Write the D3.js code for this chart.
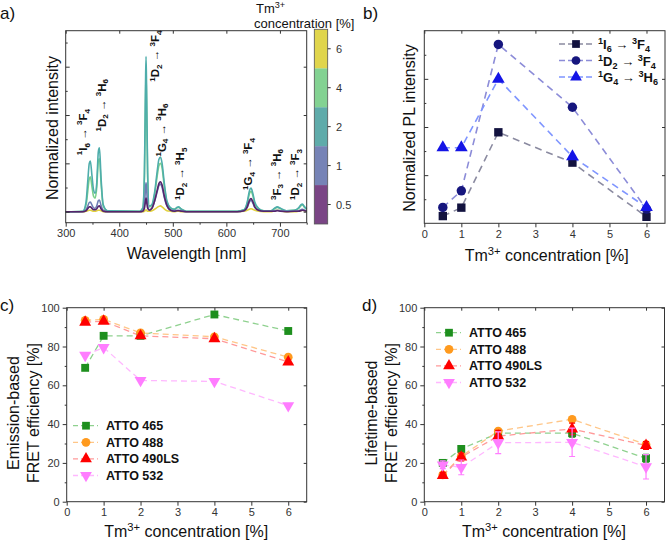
<!DOCTYPE html>
<html>
<head>
<meta charset="utf-8">
<script src="https://cdn.jsdelivr.net/npm/d3@7"></script>
<style>
  body { margin: 0; background: #fff; }
  svg { display: block; }
</style>
</head>
<body>
<div id="container"></div>
<script>
/* DATA */
// panel a: spectra
const wavelengths = [300,332,338,341,344,346,349,352,355,358,361,363,366,370,378,
  438,444,447,449,450,451,453,456,461,466,471,474,477,480,484,489,496,503,508,511,516,525,
  620,633,639,643,646,649,653,660,670,683,690,695,701,712,727,735,739,742,746,750];
const spec05 = [0,0,0.02,0.06,0.1,0.1,0.07,0.04,0.04,0.06,0.11,0.12,0.06,0.01,0,
  0,0.01,0.07,0.22,0.28,0.22,0.07,0.03,0.07,0.22,0.45,0.58,0.62,0.55,0.33,0.13,0.03,0.01,0.02,0.02,0.01,0,
  0,0.02,0.1,0.23,0.27,0.22,0.1,0.03,0.01,0.01,0.01,0.02,0.01,0,0.01,0.01,0.02,0.03,0.02,0.01];
const spec1 = [0,0,0.04,0.11,0.19,0.2,0.14,0.08,0.07,0.12,0.23,0.24,0.13,0.03,0,
  0,0.02,0.15,0.48,0.6,0.48,0.15,0.04,0.07,0.22,0.42,0.54,0.57,0.5,0.3,0.12,0.03,0.02,0.03,0.03,0.02,0,
  0,0.02,0.09,0.2,0.23,0.19,0.09,0.03,0.01,0.01,0.02,0.03,0.02,0.01,0.01,0.02,0.04,0.05,0.03,0.02];
const spec2 = [0,0.01,0.2,0.6,1.0,1.05,0.75,0.45,0.38,0.6,1.25,1.32,0.7,0.15,0.02,
  0.01,0.08,0.8,2.6,3.21,2.6,0.8,0.12,0.15,0.4,0.85,1.08,1.13,1.0,0.6,0.22,0.08,0.05,0.09,0.1,0.05,0.01,
  0.01,0.04,0.2,0.43,0.49,0.4,0.2,0.07,0.02,0.02,0.07,0.1,0.07,0.02,0.03,0.08,0.14,0.16,0.1,0.06];
const spec4 = [0,0.01,0.14,0.4,0.68,0.72,0.52,0.32,0.28,0.5,1.05,1.1,0.6,0.12,0.02,
  0.01,0.07,0.7,2.3,2.85,2.3,0.7,0.1,0.13,0.35,0.75,0.95,1.0,0.9,0.53,0.2,0.07,0.05,0.08,0.09,0.05,0.01,
  0.01,0.04,0.17,0.37,0.42,0.35,0.17,0.06,0.02,0.02,0.06,0.09,0.06,0.02,0.03,0.07,0.12,0.14,0.09,0.05];
const spec6 = [0,0,0.01,0.02,0.03,0.03,0.02,0.01,0.01,0.02,0.03,0.03,0.02,0,0,
  0,0,0.01,0.03,0.04,0.03,0.01,0.01,0.02,0.05,0.09,0.11,0.12,0.1,0.06,0.02,0.01,0,0.01,0.01,0,0,
  0,0.01,0.03,0.05,0.06,0.05,0.03,0.01,0,0,0.02,0.03,0.02,0,0,0.01,0.02,0.03,0.02,0.01];

const cbLabels = ["0.5", "1", "2", "4", "6"];

const annoText = ["^1I_6 → ^3F_4", "^1D_2 → ^3H_6", "^1D_2 → ^3F_4", "^1G_4 → ^3H_6",
                  "^1D_2 → ^3H_5", "^1G_4 → ^3F_4", "^3F_3 → ^3H_6", "^1D_2 → ^3F_3"];
const annoWl = [332, 367, 467, 479, 514, 641, 694, 728];
const annoY = [1.17, 1.66, 2.69, 1.14, 0.24, 0.45, 0.24, 0.24];

// panel b
const conc = [0.5, 1, 2, 4, 6];
const plI6F4 = [0.3, 0.65, 3.78, 2.52, 0.27];
const plD2F4 = [0.66, 1.35, 7.43, 4.82, 0.59];
const plG4H6 = [3.14, 3.14, 5.99, 2.77, 0.66];
const plNames = ["^1I_6 → ^3F_4", "^1D_2 → ^3F_4", "^1G_4 → ^3H_6"];

// panel c: emission-based FRET efficiency [%]
const dyeNames = ["ATTO 465", "ATTO 488", "ATTO 490LS", "ATTO 532"];
const em465 = [69, 85.5, 85.5, 96.5, 88];
const em488 = [93.5, 94, 87, 85, 74.5];
const em490 = [92.5, 93, 85.5, 84, 72];
const em532 = [75.5, 79.5, 62.5, 62, 49.5];

// panel d: lifetime-based FRET efficiency [%]
const lt465 = [20, 27.2, 35.3, 35.3, 22.4];
const lt488 = [13.8, 23.4, 36.4, 42.5, 29.5];
const lt490 = [13.5, 23, 33.8, 37.5, 29];
const lt532 = [19, 17.7, 30.4, 30.6, 18];
const lt465Err = [1, 1.5, 2, 2, 2];
const lt488Err = [1, 1, 1, 1, 1];
const lt490Err = [1.5, 2, 3, 3, 2];
const lt532Err = [2, 3.8, 5.6, 7.3, 6.3];

/* CONSTANTS */
const width = 666, height = 543;
const FONT = "'Liberation Sans', Arial, sans-serif";
const specColors = ["#55246b", "#6e7db4", "#4eadab", "#7bd08b", "#e2d23e"];
const cbColors = ["#7a4585", "#7683b6", "#5fabaa", "#83d292", "#e0d54c"];
const dyeColors = ["#1e8f1e", "#ff9a1e", "#ff0000", "#ff7dff"];
const dyeLines = ["#8fd18f", "#ffc688", "#ff9a9a", "#ffb8ff"];

const svg = d3.select("#container").append("svg")
  .attr("width", width).attr("height", height)
  .style("font-family", FONT);

// text with ^sup and _sub parts
function rich(text, str, fs) {
  const re = /([\^_])(?:\{([^}]*)\}|(.))|([^\^_]+)/g;
  let m, shift = 0;
  while ((m = re.exec(str))) {
    if (m[4] !== undefined) {
      text.append("tspan").attr("dy", -shift).attr("font-size", fs).text(m[4]);
      shift = 0;
    } else {
      const s = m[1] === "^" ? -0.38 * fs : 0.24 * fs;
      text.append("tspan").attr("dy", s - shift).attr("font-size", fs * 0.7)
        .text(m[2] !== undefined ? m[2] : m[3]);
      shift = s;
    }
  }
  return text;
}

function axes(g, x, y, o) {
  const [x0, x1] = x.range(), [y1, y0] = y.range();
  const styleTicks = sel => {
    sel.select(".domain").remove();
    sel.selectAll("line").attr("stroke", "#333");
    sel.selectAll("text").attr("font-size", 11).attr("fill", "#333").attr("font-family", FONT);
  };
  const inL = o.inLeft ? -1 : 1;
  g.append("g").attr("transform", `translate(0,${y1})`)
    .call(d3.axisBottom(x).tickValues(o.xMajor).tickSize(4).tickPadding(3).tickFormat(d3.format("d")))
    .call(styleTicks);
  if (o.xMinor) g.append("g").attr("transform", `translate(0,${y1})`)
    .call(d3.axisBottom(x).tickValues(o.xMinor).tickSize(2).tickFormat("")).call(styleTicks);
  g.append("g").attr("transform", `translate(${x0},0)`)
    .call(d3.axisLeft(y).tickValues(o.yMajor).tickSize(4 * inL).tickPadding(o.inLeft ? 8 : 3)
      .tickFormat(o.yLabels ? d3.format("d") : "")).call(styleTicks);
  if (o.yMinor) g.append("g").attr("transform", `translate(${x0},0)`)
    .call(d3.axisLeft(y).tickValues(o.yMinor).tickSize(2 * inL).tickFormat("")).call(styleTicks);
  // mirrored ticks inside top and right
  g.append("g").attr("transform", `translate(0,${y0})`)
    .call(d3.axisTop(x).tickValues(o.xMajor).tickSize(-3).tickFormat("")).call(styleTicks);
  g.append("g").attr("transform", `translate(${x1},0)`)
    .call(d3.axisRight(y).tickValues(o.yMajor).tickSize(-3).tickFormat("")).call(styleTicks);
  g.append("rect").attr("x", x0).attr("y", y0).attr("width", x1 - x0).attr("height", y1 - y0)
    .attr("fill", "none").attr("stroke", "#333").attr("stroke-width", 1);
}

function panelLabel(txt, x, y) {
  svg.append("text").attr("x", x).attr("y", y).attr("font-size", 17).attr("fill", "#111").text(txt);
}

function yLabel(lines, x, y) {
  const t = svg.append("g").attr("transform", `translate(${x},${y}) rotate(-90)`);
  lines.forEach((l, i) => {
    t.append("text").attr("y", i * 20).attr("text-anchor", "middle")
      .attr("font-size", 16).attr("fill", "#111").text(l);
  });
}

function xLabel(str, x, y) {
  rich(svg.append("text").attr("x", x).attr("y", y).attr("text-anchor", "middle")
    .attr("fill", "#111"), str, 16);
}

const sym = d3.symbol();
const shapes = [
  {type: d3.symbolSquare, rot: 0},
  {type: d3.symbolCircle, rot: 0},
  {type: d3.symbolTriangle, rot: 0},
  {type: d3.symbolTriangle, rot: 180}
];

/* PANEL A */
{
  const x = d3.scaleLinear().domain([300, 750]).range([65.7, 306.7]);
  const y = d3.scaleLinear().domain([-0.228, 3.745]).range([222.7, 30.7]);
  const g = svg.append("g");
  const specs = [spec05, spec1, spec2, spec4, spec6];
  const line = d3.line().x(d => d[0]).y(d => d[1]).curve(d3.curveMonotoneX);
  // draw 6% first, 0.5% on top
  [4, 3, 2, 1, 0].forEach(k => {
    const pts = wavelengths.map((w, i) => [x(w), y(specs[k][i])]);
    g.append("path").attr("d", line(pts)).attr("fill", "none")
      .attr("stroke", specColors[k]).attr("stroke-width", 1.6);
  });
  axes(g, x, y, {
    xMajor: [300, 400, 500, 600, 700], xMinor: [350, 450, 550, 650, 750],
    yMajor: [0, 1, 2, 3], yMinor: [0.5, 1.5, 2.5, 3.5], yLabels: false, inLeft: true
  });
  annoText.forEach((s, i) => {
    const t = g.append("text")
      .attr("transform", `translate(${x(annoWl[i]) + 4},${y(annoY[i])}) rotate(-90)`)
      .attr("font-weight", "bold").attr("fill", "#111");
    rich(t, s, 11.5);
  });
  // colorbar
  const cb = d3.scaleBand().domain(cbLabels).range([224, 29.3]);
  const cbx = 314.3, cbw = 13.4;
  svg.selectAll(".cb").data(cbLabels).join("rect")
    .attr("x", cbx).attr("y", d => cb(d)).attr("width", cbw).attr("height", cb.bandwidth())
    .attr("fill", (d, i) => cbColors[i]);
  svg.append("rect").attr("x", cbx).attr("y", 29.3).attr("width", cbw).attr("height", 224 - 29.3)
    .attr("fill", "none").attr("stroke", "#555").attr("stroke-width", 0.8);
  cbLabels.forEach(d => {
    const yy = cb(d) + cb.bandwidth() / 2;
    svg.append("line").attr("x1", cbx + cbw).attr("x2", cbx + cbw + 3).attr("y1", yy).attr("y2", yy)
      .attr("stroke", "#333");
    svg.append("text").attr("x", 336).attr("y", yy + 4).attr("font-size", 11).attr("fill", "#333").text(d);
  });
  rich(svg.append("text").attr("x", 256).attr("y", 13).attr("fill", "#111"), "Tm^{3+}", 13);
  svg.append("text").attr("x", 254).attr("y", 28).attr("font-size", 13).attr("fill", "#111")
    .text("concentration [%]");

  panelLabel("a)", 0, 19);
  yLabel(["Normalized intensity"], 58, 128);
  svg.append("text").attr("x", 186.5).attr("y", 259).attr("text-anchor", "middle")
    .attr("font-size", 16).attr("fill", "#111").text("Wavelength [nm]");
}

/* PANEL B */
{
  const x = d3.scaleLinear().domain([0, 6.5]).range([424.3, 665]);
  const y = d3.scaleLinear().domain([0, 8]).range([223.3, 30.7]);
  const g = svg.append("g");
  axes(g, x, y, {
    xMajor: [0, 1, 2, 3, 4, 5, 6], yMajor: [2, 4, 6], yMinor: [1, 3, 5, 7],
    yLabels: false, inLeft: true
  });
  const series = [plI6F4, plD2F4, plG4H6];
  const fills = ["#12123f", "#16167e", "#1414e6"];
  const lines = ["#8a8aa0", "#8c8cd8", "#7f95ff"];
  const line = d3.line().x((d, i) => x(conc[i])).y(d => y(d));
  series.forEach((s, k) => {
    g.append("path").attr("d", line(s)).attr("fill", "none").attr("stroke", lines[k])
      .attr("stroke-width", 1.6).attr("stroke-dasharray", "7,5");
  });
  series.forEach((s, k) => {
    g.selectAll(null).data(s).join("path")
      .attr("d", sym.type(shapes[k].type).size(70)())
      .attr("transform", (d, i) => `translate(${x(conc[i])},${y(d)})`)
      .attr("fill", fills[k]);
  });
  // legend
  plNames.forEach((n, k) => {
    const ly = 44 + k * 16.5;
    svg.append("line").attr("x1", 559).attr("x2", 592).attr("y1", ly).attr("y2", ly)
      .attr("stroke", lines[k]).attr("stroke-width", 1.6).attr("stroke-dasharray", "6,3");
    svg.append("path").attr("d", sym.type(shapes[k].type).size(60)())
      .attr("transform", `translate(576,${ly})`).attr("fill", fills[k]);
    rich(svg.append("text").attr("x", 598).attr("y", ly + 5).attr("font-weight", "bold")
      .attr("fill", "#111"), n, 13);
  });
  panelLabel("b)", 363, 19);
  yLabel(["Normalized PL intensity"], 415, 128);
  xLabel("Tm^{3+} concentration [%]", 546.7, 261);
}

/* PANELS C and D */
function fretPanel(box, data, errs, legendPos, label, ylines, ylx) {
  const x = d3.scaleLinear().domain([0, 6.5]).range([box.x0, box.x1]);
  const y = d3.scaleLinear().domain([0, 100]).range([box.y1, box.y0]);
  const g = svg.append("g");
  axes(g, x, y, {
    xMajor: [0, 1, 2, 3, 4, 5, 6], yMajor: [0, 20, 40, 60, 80, 100],
    yMinor: [10, 30, 50, 70, 90], yLabels: true, inLeft: false
  });
  const line = d3.line().x((d, i) => x(conc[i])).y(d => y(d));
  data.forEach((s, k) => {
    g.append("path").attr("d", line(s)).attr("fill", "none").attr("stroke", dyeLines[k])
      .attr("stroke-width", 1.3).attr("stroke-dasharray", "6,4");
  });
  data.forEach((s, k) => {
    if (errs) {
      g.selectAll(null).data(s).join("path")
        .attr("d", (d, i) => {
          const xx = x(conc[i]), a = y(d - errs[k][i]), b = y(d + errs[k][i]);
          return `M${xx},${a}V${b}M${xx - 3},${a}H${xx + 3}M${xx - 3},${b}H${xx + 3}`;
        })
        .attr("stroke", dyeColors[k]).attr("stroke-width", 1.2).attr("fill", "none");
    }
    g.selectAll(null).data(s).join("path")
      .attr("d", sym.type(shapes[k].type).size(k === 1 ? 60 : 62)())
      .attr("transform", (d, i) => `translate(${x(conc[i])},${y(d)}) rotate(${shapes[k].rot})`)
      .attr("fill", dyeColors[k]);
  });
  dyeNames.forEach((n, k) => {
    const ly = legendPos.y + k * 16.6;
    svg.append("line").attr("x1", legendPos.x).attr("x2", legendPos.x + 25).attr("y1", ly).attr("y2", ly)
      .attr("stroke", dyeLines[k]).attr("stroke-width", 1.3).attr("stroke-dasharray", "5,3");
    svg.append("path").attr("d", sym.type(shapes[k].type).size(60)())
      .attr("transform", `translate(${legendPos.x + 13},${ly}) rotate(${shapes[k].rot})`)
      .attr("fill", dyeColors[k]);
    svg.append("text").attr("x", legendPos.x + 33).attr("y", ly + 4.5).attr("font-weight", "bold")
      .attr("font-size", 12.5).attr("fill", "#111").text(n);
  });
  panelLabel(label, box.x0 < 200 ? 0 : 362, 311);
  yLabel(ylines, ylx, 413);
  xLabel("Tm^{3+} concentration [%]", (box.x0 + box.x1) / 2 - 0.5, 537);
}

fretPanel({x0: 66.7, x1: 306.7, y0: 307.7, y1: 501.7},
  [em465, em488, em490, em532], null, {x: 73, y: 425.7}, "c)",
  ["Emission-based", "FRET efficiency [%]"], 19);

fretPanel({x0: 424.3, x1: 664.5, y0: 307.7, y1: 501.7},
  [lt465, lt488, lt490, lt532], [lt465Err, lt488Err, lt490Err, lt532Err], {x: 436, y: 332.7}, "d)",
  ["Lifetime-based", "FRET efficiency [%]"], 377);
</script>
</body>
</html>
